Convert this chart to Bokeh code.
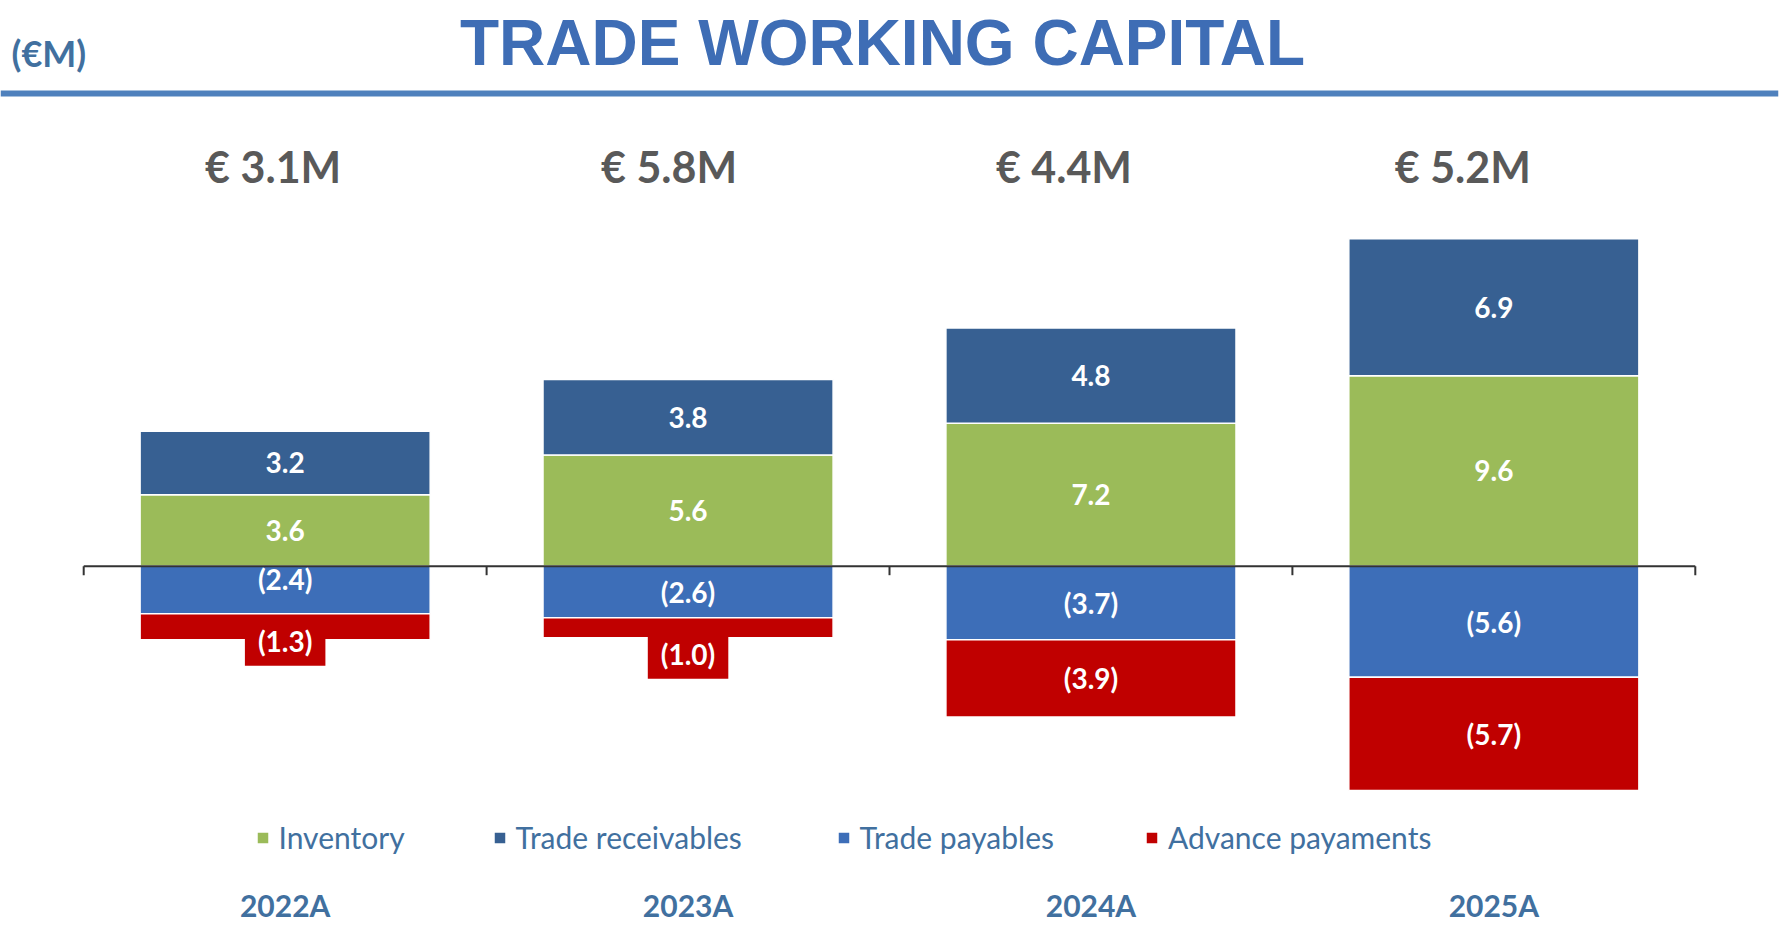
import math
from bokeh.plotting import figure
from bokeh.models import (ColumnDataSource, FactorRange, Range1d, Label, Span,
                          Legend, LegendItem)
from bokeh.core.properties import value
from bokeh.embed import file_html
from bokeh.resources import INLINE

# ---------------- data ----------------
years = ["2022A", "2023A", "2024A", "2025A"]
inventory = [3.6, 5.6, 7.2, 9.6]
receivables = [3.2, 3.8, 4.8, 6.9]
payables = [-2.4, -2.6, -3.7, -5.6]
advances = [-1.3, -1.0, -3.9, -5.7]
series_names = ["Inventory", "Trade receivables", "Trade payables", "Advance payaments"]
title_text = "TRADE WORKING CAPITAL"
unit_text = "(€M)"

# ---------------- layout / style ----------------
W, H = 1786, 929
CAT_PX = 402.9          # pixels per category
LEFT_PX = 83.0          # left edge of first category
FRAME_W = int(round(2 * LEFT_PX + 4 * CAT_PX))
ZERO_PX = 565.7         # canvas y of zero line (from top)
PXU = 19.85             # pixels per unit
BAR_W = 0.72

GREEN = "#9BBB59"
DARK = "#376092"
BLUE = "#3D6EB8"
RED = "#C00000"
TITLE_BLUE = "#3E6DB5"
TEXT_BLUE = "#41709F"
GRAY = "#595959"

# pixel nudges of some value labels (positive = down), as in the original
label_nudge = {"payables": [-11.5, 0, 0, 0], "advances": [14, 26, 0, 0]}
total_dx = [-12, -19, -27, -31]


def ydata(canvas_px):
    return (ZERO_PX - canvas_px) / PXU


rp = (FRAME_W / CAT_PX - 4) / 4
p = figure(width=W, height=H,
           x_range=FactorRange(factors=years, range_padding=rp),
           y_range=Range1d(ydata(H), ydata(0)),
           x_axis_location=None, y_axis_location=None,
           toolbar_location=None, output_backend="svg",
           min_border_left=0, min_border_right=W - FRAME_W,
           min_border_top=0, min_border_bottom=0,
           outline_line_color=None, background_fill_color="white")
p.grid.visible = False

src = ColumnDataSource(dict(years=years, inventory=inventory, receivables=receivables,
                            payables=payables, advances=advances))

pos = p.vbar_stack(["inventory", "receivables"], x="years", width=BAR_W,
                   fill_color=[GREEN, DARK], line_color="white", line_width=1.5,
                   source=src)
neg = p.vbar_stack(["payables", "advances"], x="years", width=BAR_W,
                   fill_color=[BLUE, RED], line_color="white", line_width=1.5,
                   source=src)

# zero axis line with ticks between categories
p.segment(x0=[(years[0], -0.5)], y0=[0], x1=[(years[-1], 0.5)], y1=[0],
          line_color="#333333", line_width=2)
tick_x = [(y, -0.5) for y in years] + [(years[-1], 0.5)]
p.ray(x=tick_x, y=[0] * len(tick_x), length=9, length_units="screen",
      angle=-math.pi / 2, line_color="#333333", line_width=2)


def fmt(v):
    return f"{v:.1f}" if v >= 0 else f"({abs(v):.1f})"


label_sets = [
    ("inventory", [v / 2 for v in inventory], inventory, None),
    ("receivables", [a + b / 2 for a, b in zip(inventory, receivables)], receivables, None),
    ("payables", [v / 2 for v in payables], payables, None),
    ("advances", [a + b / 2 for a, b in zip(payables, advances)], advances, RED),
]
for name, mids, vals, bg in label_sets:
    nud = label_nudge.get(name, [0] * len(years))
    ys = [m - n / PXU for m, n in zip(mids, nud)]
    kw = {}
    if bg is not None:
        kw = dict(background_fill_color=bg,
                  padding=dict(left=13, right=13, top=8, bottom=8))
    p.text(x=years, y=ys, text=[fmt(v) for v in vals],
           text_font=value("Lato"), text_font_style="bold", text_font_size="28px",
           text_color="white", text_align="center", text_baseline="middle", **kw)

# totals above bars
totals = [round(a + b + c + d, 1) for a, b, c, d in zip(inventory, receivables, payables, advances)]
p.text(x=[(y, dx / CAT_PX) for y, dx in zip(years, total_dx)],
       y=[ydata(166)] * len(years),
       text=[f"€ {t:.1f}M" for t in totals],
       text_font=value("Lato"), text_font_style="bold", text_font_size="43px",
       text_color=GRAY, text_align="center", text_baseline="middle")

# year labels at the bottom
p.text(x=years, y=[ydata(904)] * len(years), text=years,
       text_font=value("Lato"), text_font_style="bold", text_font_size="30px",
       text_color=TEXT_BLUE, text_align="center", text_baseline="middle")

# header
p.add_layout(Label(x=882, y=H - 42, x_units="screen", y_units="screen", text=title_text,
                   text_align="center", text_baseline="middle",
                   text_font="Liberation Sans", text_font_style="bold",
                   text_font_size="64px", text_color=TITLE_BLUE))
p.add_layout(Label(x=11, y=H - 52, x_units="screen", y_units="screen", text=unit_text,
                   text_align="left", text_baseline="middle",
                   text_font="Lato", text_font_style="bold",
                   text_font_size="36px", text_color=TEXT_BLUE))
p.add_layout(Span(location=ydata(93), dimension="width", line_color="#4F81BD", line_width=6))

# legend: one entry each, at the original positions
legend_sx = [262, 499, 843, 1151.5]
renderers = [pos[0], pos[1], neg[0], neg[1]]
GLYPH = 15
for sx, r, name in zip(legend_sx, renderers, series_names):
    leg = Legend(items=[LegendItem(label=name, renderers=[r])],
                 location=(sx - GLYPH / 2, H - 855), orientation="horizontal",
                 glyph_width=GLYPH, glyph_height=GLYPH, label_standoff=9,
                 padding=0, margin=0, spacing=0,
                 border_line_alpha=0, background_fill_alpha=0,
                 label_text_font="Lato", label_text_font_size="30px",
                 label_text_color=TEXT_BLUE)
    p.add_layout(leg)

open("out.html", "w").write(file_html(p, INLINE))
